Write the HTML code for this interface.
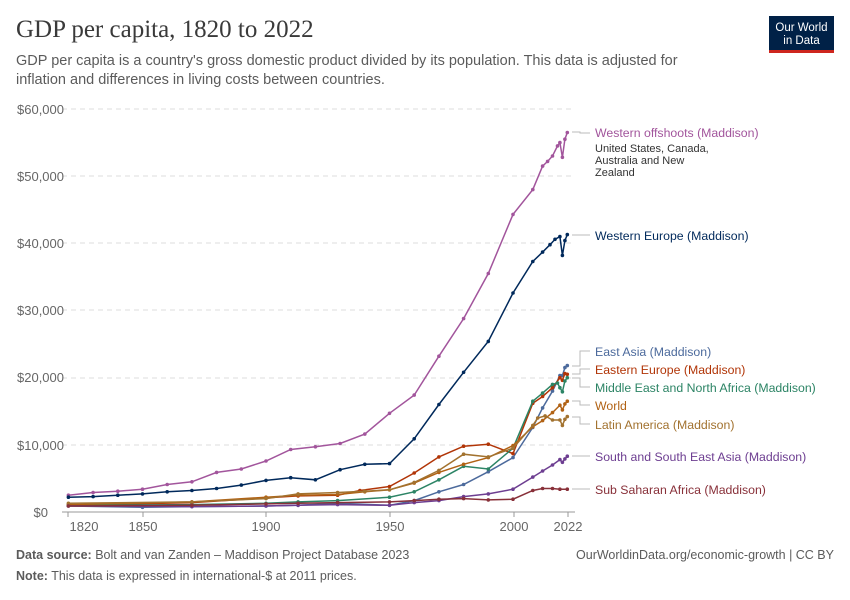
<!DOCTYPE html>
<html><head><meta charset="utf-8"><style>
body{margin:0;background:#fff;width:850px;height:600px;overflow:hidden;font-family:"Liberation Sans",sans-serif}
.t{position:absolute;left:16px;top:16px;font-family:"Liberation Serif",serif;font-size:25px;color:#3a3a3a}
.s{position:absolute;left:16px;top:52px;font-size:14.5px;color:#5b5b5b;line-height:19px;width:700px}
.logo{position:absolute;left:769px;top:16px;width:65px;height:37px;background:#002147;border-bottom:3px solid #ce261e;color:#fff;font-size:11.5px;line-height:13px;text-align:center;box-sizing:border-box;padding-top:6px}
.f{position:absolute;left:16px;font-size:12.5px;color:#5b5b5b}
</style></head><body>
<div class="t">GDP per capita, 1820 to 2022</div>
<div class="s">GDP per capita is a country's gross domestic product divided by its population. This data is adjusted for inflation and differences in living costs between countries.</div>
<div class="logo">Our World<br>in Data</div>
<svg id="c" width="850" height="600" style="position:absolute;left:0;top:0" font-family="Liberation Sans, sans-serif">
<g stroke="#ddd" stroke-dasharray="5,4">
<line x1="62" x2="575" y1="109" y2="109"/><line x1="62" x2="575" y1="176" y2="176"/><line x1="62" x2="575" y1="243" y2="243"/><line x1="62" x2="575" y1="310" y2="310"/><line x1="62" x2="575" y1="378" y2="378"/><line x1="62" x2="575" y1="445" y2="445"/></g>
<line x1="62" x2="575" y1="512" y2="512" stroke="#999"/>
<g font-size="13" fill="#666" text-anchor="end">
<text x="64" y="114">$60,000</text><text x="64" y="181">$50,000</text><text x="64" y="248">$40,000</text><text x="64" y="315">$30,000</text><text x="64" y="382">$20,000</text><text x="64" y="450">$10,000</text><text x="48" y="517">$0</text></g>
<g stroke="#999"><line x1="68" x2="68" y1="512" y2="517"/><line x1="143" x2="143" y1="512" y2="517"/><line x1="266" x2="266" y1="512" y2="517"/><line x1="390" x2="390" y1="512" y2="517"/><line x1="514" x2="514" y1="512" y2="517"/><line x1="568" x2="568" y1="512" y2="517"/></g>
<g font-size="13" fill="#666" text-anchor="middle">
<text x="84" y="531">1820</text><text x="143" y="531">1850</text><text x="266" y="531">1900</text><text x="390" y="531">1950</text><text x="514" y="531">2000</text><text x="568" y="531">2022</text></g>
<g id="L"></g>
<g font-size="12.3">
<text x="595" y="137" fill="#a2559c">Western offshoots (Maddison)</text>
<text x="595" y="152" font-size="11" fill="#333">United States, Canada,</text>
<text x="595" y="164" font-size="11" fill="#333">Australia and New</text>
<text x="595" y="176" font-size="11" fill="#333">Zealand</text>
<text x="595" y="240" fill="#00295b">Western Europe (Maddison)</text>
<text x="595" y="356" fill="#4c6a9c">East Asia (Maddison)</text>
<text x="595" y="374" fill="#b13507">Eastern Europe (Maddison)</text>
<text x="595" y="392" fill="#2c8465">Middle East and North Africa (Maddison)</text>
<text x="595" y="410" fill="#b16214">World</text>
<text x="595" y="429" fill="#a2722f">Latin America (Maddison)</text>
<text x="595" y="461" fill="#6d3e91">South and South East Asia (Maddison)</text>
<text x="595" y="494" fill="#883039">Sub Saharan Africa (Maddison)</text>
</g>
<g stroke="#bbb" fill="none">
<polyline points="572,132 580,132 580,133 590,133"/>
<polyline points="572,235 590,235"/>
<polyline points="572,366 580,366 580,351 590,351"/>
<polyline points="572,374 580,374 580,369 590,369"/>
<polyline points="572,378 580,378 580,387 590,387"/>
<polyline points="572,401 580,401 580,405 590,405"/>
<polyline points="572,417 580,417 580,424 590,424"/>
<polyline points="572,456 590,456"/>
<polyline points="572,489 590,489"/>
</g>
</svg>
<div class="f" style="top:548px"><b>Data source:</b> Bolt and van Zanden – Maddison Project Database 2023</div>
<div class="f" style="top:548px;left:auto;right:16px">OurWorldinData.org/economic-growth | CC BY</div>
<div class="f" style="top:569px"><b>Note:</b> This data is expressed in international-$ at 2011 prices.</div>
<script>
var D=[
["#a2559c",[1820,2500,1830,2900,1840,3100,1850,3400,1860,4100,1870,4500,1880,5900,1890,6400,1900,7600,1910,9300,1920,9700,1930,10200,1940,11600,1950,14700,1960,17400,1970,23200,1980,28800,1990,35500,2000,44300,2008,48000,2012,51500,2014,52200,2016,53000,2018,54500,2019,55000,2020,52800,2021,55500,2022,56500]],
["#00295b",[1820,2200,1830,2300,1840,2500,1850,2700,1860,3000,1870,3200,1880,3500,1890,4000,1900,4700,1910,5100,1920,4800,1930,6300,1940,7100,1950,7200,1960,10900,1970,16000,1980,20800,1990,25400,2000,32600,2008,37300,2012,38700,2015,39800,2017,40600,2019,41000,2020,38200,2021,40400,2022,41300]],
["#4c6a9c",[1820,900,1850,700,1870,800,1900,900,1913,1000,1929,1300,1950,1000,1960,1700,1970,3000,1980,4100,1990,6000,2000,8100,2008,12600,2012,15500,2016,18000,2019,20300,2020,20300,2021,21500,2022,21800]],
["#b13507",[1820,1000,1870,1400,1900,2100,1913,2400,1929,2500,1938,3200,1950,3800,1960,5800,1970,8200,1980,9800,1990,10100,2000,8700,2008,16200,2012,17200,2016,18500,2019,20000,2020,19600,2021,20600,2022,20500]],
["#2c8465",[1820,1000,1870,1100,1900,1300,1913,1500,1929,1700,1950,2200,1960,3000,1970,4800,1980,6800,1990,6400,2000,9500,2008,16500,2012,17700,2016,19000,2018,19200,2019,18500,2020,17900,2021,19500,2022,20000]],
["#b16214",[1820,1100,1870,1500,1900,2200,1913,2500,1929,2600,1940,3000,1950,3300,1960,4300,1970,5900,1980,7100,1990,8100,2000,9900,2008,12700,2012,13600,2016,14800,2019,15900,2020,15200,2021,16100,2022,16500]],
["#a2722f",[1820,1300,1870,1500,1900,2000,1913,2700,1929,2900,1940,3100,1950,3300,1960,4400,1970,6200,1980,8600,1990,8200,2000,9500,2008,12900,2010,14000,2013,14300,2016,13700,2019,13700,2020,12900,2021,13800,2022,14200]],
["#6d3e91",[1820,900,1870,800,1900,900,1913,1000,1929,1100,1950,1000,1960,1400,1970,1700,1980,2300,1990,2700,2000,3400,2008,5200,2012,6100,2016,7000,2019,7800,2020,7400,2021,7900,2022,8300]],
["#883039",[1820,900,1870,1000,1900,1200,1913,1300,1929,1400,1950,1500,1960,1700,1970,1900,1980,2000,1990,1800,2000,1900,2008,3200,2012,3500,2016,3500,2019,3400,2022,3400]]];
var g=document.getElementById("L"),h="";
D.forEach(function(s){var p=[],c="";for(var i=0;i<s[1].length;i+=2){var x=266+(s[1][i]-1900)*2.47,y=512-s[1][i+1]*0.006717;p.push(x.toFixed(1)+","+y.toFixed(1));c+='<circle cx="'+x.toFixed(1)+'" cy="'+y.toFixed(1)+'" r="1.8" fill="'+s[0]+'"/>';}
h+='<polyline fill="none" stroke="'+s[0]+'" stroke-width="1.5" points="'+p.join(" ")+'"/>'+c;});
g.innerHTML=h;
</script>
</body></html>
